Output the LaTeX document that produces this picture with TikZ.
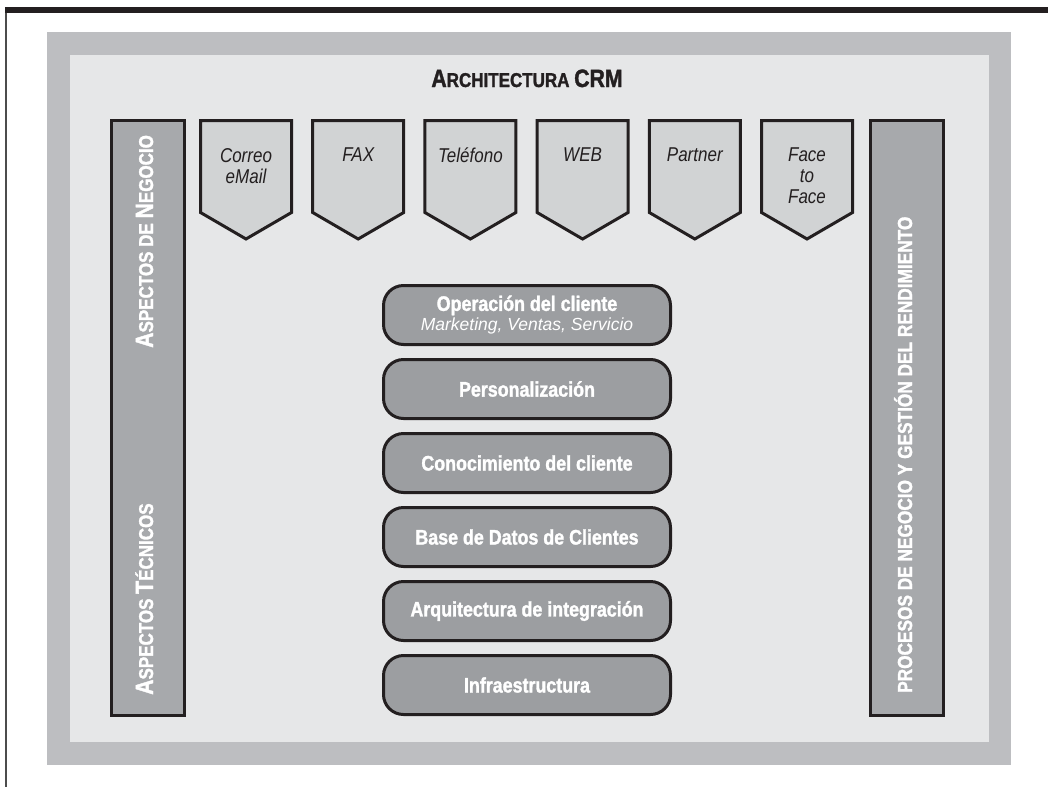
\documentclass[tikz,border=0pt]{standalone}
\usepackage{fontspec}
\setmainfont{Liberation Sans}[FakeStretch=0.85, BoldFeatures={FakeBold=1.5}]
\newfontfamily\plainsans{Liberation Sans}
\usetikzlibrary{positioning}

\definecolor{framegray}{RGB}{189,190,193}
\definecolor{panelgray}{RGB}{230,231,232}
\definecolor{bargray}{RGB}{167,169,172}
\definecolor{chanfill}{RGB}{209,211,212}
\definecolor{layerfill}{RGB}{156,158,161}
\definecolor{inkblack}{RGB}{35,31,32}

% big first letter, smaller rest (fake small caps)
\newcommand{\scword}[4]{{\fontsize{#1}{#1}\selectfont #3}{\fontsize{#2}{#2}\selectfont #4}}

\tikzset{
  sidebar/.style={draw=inkblack, fill=bargray, line width=3pt, minimum width=73pt, minimum height=595pt, inner sep=0pt},
  sidetext/.style={rotate=90, anchor=base west, text=white, inner sep=0pt},
  channel/.style={draw=inkblack, fill=chanfill, line width=3pt, line join=miter},
  chantext/.style={anchor=north, align=center, text=inkblack, inner sep=0pt, font=\itshape\fontsize{20}{21}\selectfont},
  layer/.style={draw=inkblack, fill=layerfill, line width=3pt, rounded corners=20pt, minimum width=287pt, minimum height=59pt, inner sep=0pt, align=center, text=white, font=\bfseries\fontsize{21}{20}\selectfont},
}

\begin{document}
\begin{tikzpicture}[x=1pt,y=-1pt]
    \useasboundingbox (0,0) rectangle (1048,787);

    % page frame
    \fill[inkblack] (5,7) rectangle (1048,13);
    \draw[line width=1.5pt, black!70] (5.75,13) -- (5.75,787);

    % panel
    \fill[framegray] (47,32) rectangle (1011,765);
    \fill[panelgray] (70,55) rectangle (989,742);

    % title
    \node[anchor=base, text=inkblack, inner sep=0pt, font=\bfseries] (titulo) at (527,87)
        {\scword{25}{20}{A}{RCHITECTURA }{\fontsize{25}{25}\selectfont CRM}};

    % side bars
    \node[sidebar] (barizq) at (148,418) {};
    \node[sidebar] (barder) at (906.5,418) {};
    \node[sidetext, font=\bfseries] (negocio) at (153,348)
        {\scword{25}{20}{A}{SPECTOS DE }\scword{25}{20}{N}{EGOCIO}};
    \node[sidetext, font=\bfseries] (tecnicos) at (153,695)
        {\scword{25}{20}{A}{SPECTOS }\scword{25}{20}{T}{ÉCNICOS}};
    \node[sidetext, font=\bfseries\fontsize{20.3}{20}\selectfont] (procesos) at (912,693)
        {PROCESOS DE NEGOCIO Y GESTIÓN DEL RENDIMIENTO};

    % channels
    \foreach \i/\name/\txt in {0/correo/{Correo\\eMail}, 1/fax/FAX, 2/telefono/Teléfono,
                               3/web/WEB, 4/partner/Partner, 5/face/{Face\\to\\Face}}
    {
        \pgfmathsetmacro{\cx}{199+112.2*\i}
        \draw[channel] (\cx+1.5,120.5) -- ++(91,0) -- ++(0,92) -- (\cx+47,239) -- (\cx+1.5,212.5) -- cycle;
        \node[chantext] (\name) at (\cx+47,148) {\txt};
    }

    % layers
    \node[layer] (operacion) at (527,315)
        {Operación del cliente\\{\plainsans\mdseries\itshape\fontsize{17.5}{20}\selectfont Marketing, Ventas, Servicio}};
    \node[layer, below=12pt of operacion] (personal) {Personalización};
    \node[layer, below=12pt of personal] (conocim) {Conocimiento del cliente};
    \node[layer, below=12pt of conocim] (basedatos) {Base de Datos de Clientes};
    \node[layer, below=12pt of basedatos] (integra) {Arquitectura de integración};
    \node[layer, below=12pt of integra] (infra) {Infraestructura};
\end{tikzpicture}
\end{document}
